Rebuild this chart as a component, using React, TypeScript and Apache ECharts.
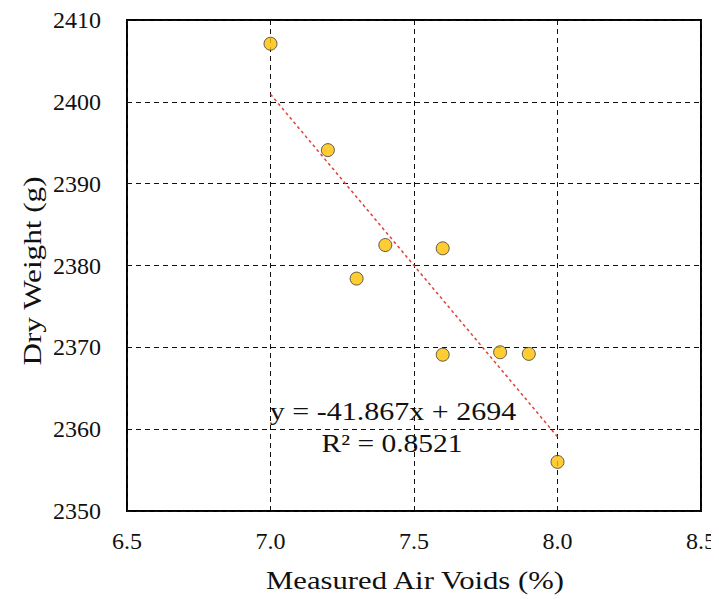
import React, { useEffect, useRef } from "react";
import * as echarts from "echarts";

// Measured air voids (%) and dry weight (g) of each specimen
const airVoids = [7.0, 7.2, 7.3, 7.4, 7.6, 7.6, 7.8, 7.9, 8.0];
const dryWeight = [2407.1, 2394.1, 2378.4, 2382.5, 2382.1, 2369.1, 2369.4, 2369.2, 2356.0];

// Linear trend line coefficients and fit quality
const slope = -41.867;
const intercept = 2694;
const rSquared = 0.8521;

const xTicks = [6.5, 7.0, 7.5, 8.0, 8.5];
const yTicks = [2350, 2360, 2370, 2380, 2390, 2400, 2410];

const xTitle = "Measured Air Voids (%)";
const yTitle = "Dry Weight (g)";

const FONT = "Liberation Serif";

export default function App() {
  const ref = useRef<HTMLDivElement>(null);

  useEffect(() => {
    if (!ref.current) return;
    const chart = echarts.init(ref.current, null, { renderer: "svg" });

    const points = airVoids.map((x, i) => [x, dryWeight[i]]);
    const xMin = Math.min(...airVoids);
    const xMax = Math.max(...airVoids);
    const trend = [xMin, xMax].map((x) => [x, slope * x + intercept]);

    const text = (
      content: string,
      x: number,
      y: number,
      size: number,
      stretch: number,
      rotation = 0
    ) => ({
      type: "text",
      x,
      y,
      rotation,
      scaleX: stretch,
      z: 10,
      style: {
        text: content,
        fontFamily: FONT,
        fontSize: size,
        fill: "#111",
        align: "center",
        verticalAlign: "middle",
      },
    });

    chart.setOption({
      animation: false,
      backgroundColor: "#ffffff",
      grid: {
        left: 119,
        top: 10,
        right: 16,
        bottom: 88,
        show: true,
        borderColor: "#000000",
        borderWidth: 2,
        backgroundColor: "transparent",
      },
      xAxis: {
        type: "value",
        min: xTicks[0],
        max: xTicks[xTicks.length - 1],
        interval: 0.5,
        axisLine: { show: false },
        axisTick: { show: false },
        axisLabel: {
          fontFamily: FONT,
          fontSize: 24,
          color: "#111",
          margin: 18,
          formatter: (v: number) => v.toFixed(1),
        },
        splitLine: {
          show: true,
          lineStyle: { color: "#111", type: [5, 4], width: 1 },
        },
      },
      yAxis: {
        type: "value",
        min: yTicks[0],
        max: yTicks[yTicks.length - 1],
        interval: 10,
        axisLine: { show: false },
        axisTick: { show: false },
        axisLabel: {
          fontFamily: FONT,
          fontSize: 24,
          color: "#111",
          margin: 26,
          formatter: (v: number) => String(v),
        },
        splitLine: {
          show: true,
          lineStyle: { color: "#111", type: [5, 4], width: 1 },
        },
      },
      series: [
        {
          type: "line",
          data: trend,
          symbol: "none",
          lineStyle: { color: "#E0403A", width: 1.5, type: [3, 3] },
          z: 2,
        },
        {
          type: "scatter",
          data: points,
          symbol: "circle",
          symbolSize: 13,
          itemStyle: { color: "#FFC000", borderColor: "#3a3a3a", borderWidth: 1 },
          z: 3,
        },
      ],
      graphic: [
        text(`y = ${slope}x + ${intercept}`, 385, 403, 25, 1.2),
        text(`R² = ${rSquared}`, 384, 436, 25, 1.18),
        text(xTitle, 407, 572, 26, 1.18),
        text(yTitle, 24, 263, 26, 1.2, Math.PI / 2),
      ],
    });

    return () => chart.dispose();
  }, []);

  return <div ref={ref} style={{ width: 711, height: 591 }} />;
}
